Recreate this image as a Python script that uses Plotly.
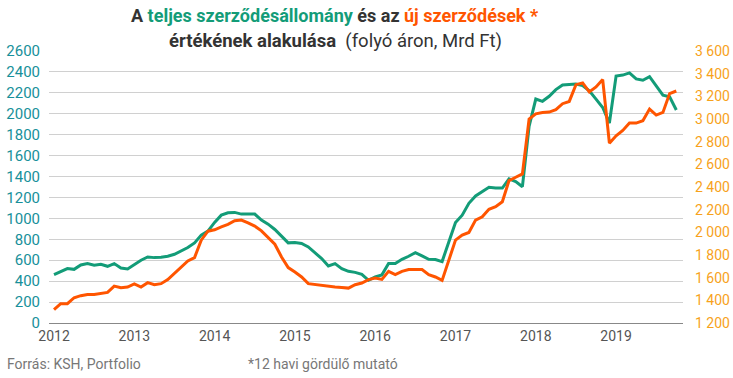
import plotly.graph_objects as go

# Monthly data, 2012-01 .. 2019-10 (12-month rolling)
teljes = [462, 494, 520, 513, 555, 568, 552, 561, 542, 568, 526, 516,
          561, 600, 631, 625, 628, 638, 657, 689, 721, 766, 840, 878,
          962, 1031, 1054, 1057, 1041, 1041, 1041, 983, 945, 894, 830, 766,
          769, 760, 727, 670, 616, 545, 568, 520, 494, 484, 465, 408,
          440, 460, 568, 568, 609, 638, 673, 641, 609, 606, 587, 775,
          961, 1031, 1144, 1214, 1255, 1297, 1290, 1290, 1377, 1352, 1303, 1880,
          2141, 2119, 2167, 2231, 2276, 2279, 2285, 2270, 2220, 2140, 2060, 1911,
          2360, 2370, 2391, 2333, 2320, 2355, 2262, 2178, 2163, 2036]
uj = [1317, 1370, 1370, 1423, 1441, 1452, 1452, 1459, 1470, 1526, 1512, 1517,
      1544, 1517, 1556, 1538, 1547, 1583, 1636, 1694, 1747, 1777, 1931, 2010,
      2022, 2048, 2070, 2102, 2108, 2084, 2055, 2013, 1951, 1895, 1783, 1689,
      1650, 1606, 1547, 1538, 1532, 1523, 1517, 1514, 1508, 1538, 1553, 1583,
      1597, 1585, 1656, 1627, 1656, 1671, 1674, 1671, 1627, 1606, 1576, 1753,
      1931, 1975, 1999, 2108, 2137, 2203, 2226, 2270, 2456, 2486, 2515, 3000,
      3046, 3058, 3061, 3082, 3135, 3155, 3303, 3318, 3239, 3283, 3348, 2787,
      2852, 2899, 2964, 2964, 2985, 3088, 3035, 3058, 3224, 3247]
months = list(range(len(teljes)))
year_labels = ["2012", "2013", "2014", "2015", "2016", "2017", "2018", "2019"]
year_pos = [12 * k for k in range(len(year_labels))]
left_ticks = list(range(0, 2601, 200))
right_ticks = list(range(1200, 3601, 200))
right_ticktext = [f"{v:,}".replace(",", " ") for v in right_ticks]

GREEN = "#139c78"
ORANGE = "#ff5500"
LEFTC = "#17909a"
RIGHTC = "#f7a21b"

W, H = 733, 378
ML, MR, MT, MB = 49, 50, 51, 55

fig = go.Figure()
fig.add_trace(go.Scatter(x=months, y=teljes, mode="lines", line=dict(color=GREEN, width=3),
                         name="teljes", yaxis="y", hoverinfo="skip"))
fig.add_trace(go.Scatter(x=months, y=uj, mode="lines", line=dict(color=ORANGE, width=3),
                         name="új", yaxis="y2", hoverinfo="skip"))

fig.update_layout(
    width=W, height=H,
    margin=dict(l=ML, r=MR, t=MT, b=MB, autoexpand=False),
    paper_bgcolor="white", plot_bgcolor="white",
    showlegend=False,
    font=dict(family="Roboto", color="#555"),
    xaxis=dict(range=[-0.75, 94.0], tickvals=year_pos, ticktext=year_labels,
               showgrid=False, zeroline=False, showline=True, linecolor="#888", linewidth=1,
               ticks="", tickfont=dict(size=14, color="#555"), automargin=False),
    yaxis=dict(range=[0, 2600], tickvals=left_ticks, showgrid=True, gridcolor="#d0d0d0",
               gridwidth=1, zeroline=False, ticks="", tickfont=dict(size=15, color=LEFTC),
               ticklabelstandoff=8, automargin=False),
    yaxis2=dict(range=[1200, 3600], tickvals=right_ticks, ticktext=right_ticktext,
                overlaying="y", side="right", showgrid=False, zeroline=False, ticks="",
                tickfont=dict(size=14, color=RIGHTC), ticklabelstandoff=11, automargin=False),
)

ph = H - MT - MB
pw = W - ML - MR
def px_x(x):
    return (x - ML) / pw
def px_y(y):
    return (H - MB - y) / ph

fig.add_annotation(
    text=(f"<b>A <span style='color:{GREEN}'>teljes szerződésállomány</span> és az "
          f"<span style='color:{ORANGE}'>új szerződések *</span></b>"),
    xref="paper", yref="paper", x=px_x(335), y=px_y(15), xanchor="center", yanchor="middle",
    showarrow=False, font=dict(size=18, color="#333", family="Roboto"))
fig.add_annotation(
    text="<b>értékének alakulása</b>  (folyó áron, Mrd Ft)",
    xref="paper", yref="paper", x=px_x(335), y=px_y(41), xanchor="center", yanchor="middle",
    showarrow=False, font=dict(size=18.5, color="#333", family="Roboto"))
fig.add_annotation(text="Forrás: KSH, Portfolio", xref="paper", yref="paper",
                   x=px_x(5), y=px_y(364), xanchor="left", yanchor="middle",
                   showarrow=False, font=dict(size=14, color="#777"))
fig.add_annotation(text="*12 havi gördülő mutató", xref="paper", yref="paper",
                   x=px_x(246), y=px_y(364), xanchor="left", yanchor="middle",
                   showarrow=False, font=dict(size=14, color="#777"))

fig.write_html("out.html", config={"displayModeBar": False},
               post_script="document.body.style.margin='0';")
